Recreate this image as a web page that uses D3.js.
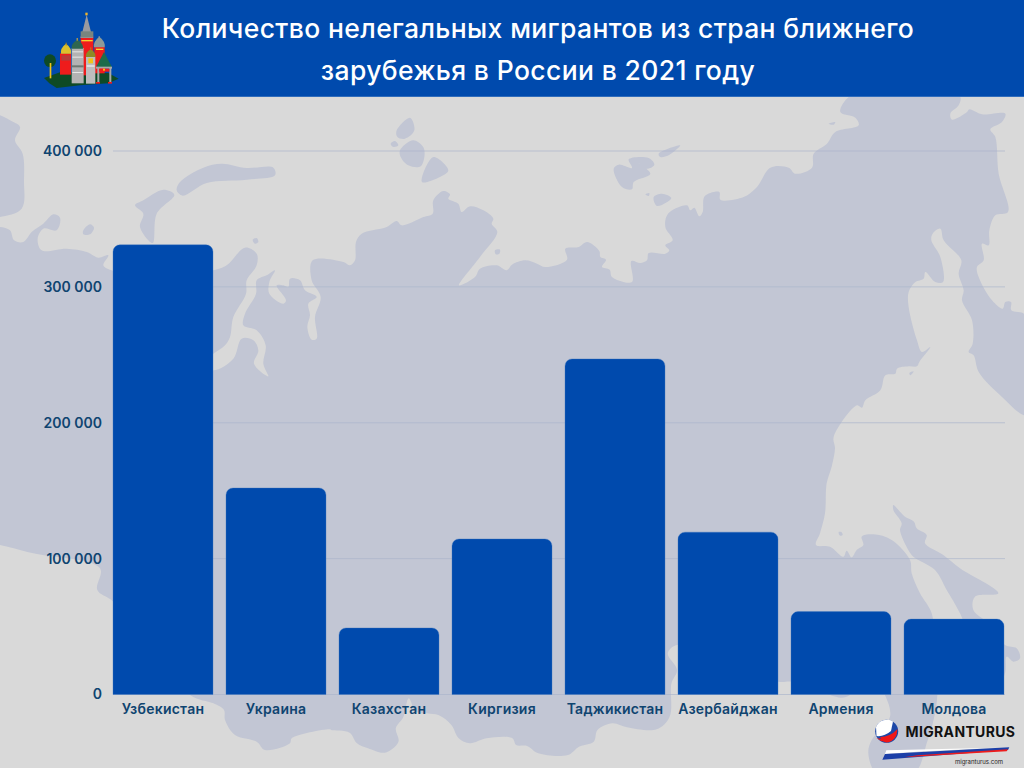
<!DOCTYPE html>
<html>
<head>
<meta charset="utf-8">
<script src="https://cdn.jsdelivr.net/npm/d3@7"></script>
<style>
  html, body { margin: 0; padding: 0; background: #d9d9d9; }
  svg { display: block; }
  text { font-family: Inter, "Noto Sans", sans-serif; }
</style>
</head>
<body>
<svg width="1024" height="768"></svg>
<script>
var titleLines = ["Количество нелегальных мигрантов из стран ближнего", "зарубежья в России в 2021 году"];
var categories = ["Узбекистан", "Украина", "Казахстан", "Киргизия", "Таджикистан", "Азербайджан", "Армения", "Молдова"];
var values = [331000, 152000, 49000, 114500, 247000, 119500, 61000, 55500];
var yTicks = [0, 100000, 200000, 300000, 400000];

var svg = d3.select("svg"),
    width = +svg.attr("width"),
    height = +svg.attr("height"),
    margin = {top: 151, right: 13.5, bottom: 73.5, left: 106.5};

var blue = "#004aad", land = "#c2c6d4", textBlue = "#0f4470";

// background map, traced by eye from crops of the picture
function pts(list, ox, oy, sx, sy) {
  return list.map(function(p) { return [ox + p[0] / sx, oy + p[1] / sy]; });
}
var north1 = pts([[0,390],[30,400],[42,430],[70,435],[95,405],[130,380],[160,352],[180,362],[170,400],[130,395],[113,425],[125,460],[200,455],[260,465],[295,482],[325,475],[310,505],[340,522],[500,540],[640,520],[680,505],[735,452],[770,470],[770,505],[740,550],[738,590],[700,660],[690,720],[675,745],[640,770],[590,800],[640,820],[700,785],[725,725],[760,730],[775,760],[762,800],[805,838],[790,800],[797,745],[770,700],[730,685],[735,650],[768,590],[770,550],[800,535],[825,520],[808,555],[808,590],[850,620],[858,610],[830,565],[850,565],[865,570],[870,545],[900,550],[915,580],[950,600],[925,620],[930,655],[922,690],[935,728],[950,725],[945,660],[962,600],[935,550],[938,490],[1030,495],[1050,505],[1065,490],[1068,435],[1085,410],[1160,390],[1190,372],[1205,385],[1270,360],[1298,350],[1300,310],[1330,282],[1350,292],[1345,305],[1375,320],[1385,345],[1410,328],[1450,340],[1480,365],[1475,380],[1492,405],[1440,480],[1377,565],[1425,540],[1440,515],[1490,505],[1520,520]], 0, 97, 3, 3);
var north2 = pts([[0,503],[40,490],[75,500],[100,510],[165,488],[160,455],[200,450],[225,435],[262,462],[265,480],[282,488],[270,510],[293,518],[300,540],[360,555],[358,492],[385,498],[405,490],[410,468],[460,470],[472,460],[460,445],[482,430],[460,390],[468,350],[525,325],[535,340],[547,332],[562,358],[572,345],[578,298],[622,285],[625,308],[695,300],[735,270],[775,212],[830,212],[850,230],[900,212],[905,170],[945,140],[970,105],[1040,85],[1030,62],[985,45],[1010,0],[1100,-30],[1300,-30],[1345,0],[1340,25],[1315,50],[1320,68],[1365,45],[1372,37],[1410,52],[1480,50],[1470,75],[1435,97],[1450,120],[1460,230],[1488,345],[1450,355],[1432,400],[1430,445],[1410,440],[1415,490],[1395,510],[1400,540],[1440,610],[1472,635],[1480,615],[1497,615],[1498,640],[1536,650],[1560,700],[1560,950],[1536,955],[1470,900],[1400,825],[1385,775],[1370,765],[1382,740],[1380,670],[1350,610],[1355,580],[1340,530],[1348,490],[1295,430],[1285,395],[1262,410],[1258,430],[1285,480],[1293,555],[1270,555],[1240,525],[1235,545],[1210,555],[1190,585],[1190,630],[1215,730],[1230,765],[1255,750],[1222,795],[1215,808],[1190,808],[1155,815],[1150,830],[1120,835],[1105,880],[1060,910],[1050,932],[1035,925],[965,1020]], 512, 97, 3, 3);
var east = pts([[525,145],[515,200],[500,250],[495,340],[480,400],[468,435],[510,440],[550,470],[560,452],[575,472],[590,450],[610,435],[605,410],[640,403],[695,420],[750,480],[755,520],[780,580],[815,640],[825,750],[832,885]], 660, 400, 3, 3);
var lobe = pts([[222,474],[202,544],[162,640],[50,640],[25,580],[35,540],[90,470],[75,405],[30,330]], 860, 560, 3, 3);
var south1 = pts([[570,885],[545,893],[510,885],[440,860],[395,845],[355,845],[200,790]], 660, 400, 3, 3);
var south2 = pts([[965,15],[940,40],[965,90],[950,130],[945,230],[910,268],[830,262],[790,250],[750,270],[740,305],[700,320],[670,345],[590,340],[560,318],[530,315],[520,295],[450,295],[405,310],[375,295],[355,255],[320,225],[260,215],[240,175],[225,232],[205,265],[212,305],[175,338],[130,325],[100,310],[80,278],[30,270]], 320, 640, 2.703, 3);
var south3 = pts([[990,568],[875,595],[870,610],[795,630],[770,605],[705,585],[675,540],[672,510],[640,490],[570,465],[340,185],[292,150],[300,85],[100,40],[0,15],[-30,10]], 0, 540, 3, 3);
var mainLand = north1.concat(north2, east, lobe, south1, south2, south3, [[-10, 400], [-10, 228]]);

var strip = pts([[700,315],[720,335],[735,350],[762,365],[770,385],[800,405],[795,430],[850,465],[900,505],[1015,580],[945,590],[940,630],[1000,680],[1035,735],[1070,745],[1080,775],[1060,785],[1040,770],[1035,820],[1000,880],[900,640],[860,570],[825,510],[760,470],[745,450],[720,390],[725,370],[700,330]], 660, 400, 3, 3);

var islands = [
  pts([[-30,50],[0,55],[30,70],[60,90],[45,130],[68,170],[72,250],[65,335],[0,360],[-30,365]], 0, 97, 3, 3),
  pts([[405,325],[430,310],[490,278],[523,293],[470,350],[458,438],[420,390],[430,350]], 0, 97, 3, 3),
  pts([[530,280],[540,255],[610,212],[665,200],[740,213],[820,212],[825,235],[740,248],[620,258],[548,296]], 0, 97, 3, 3),
  pts([[250,400],[270,382],[282,392],[270,412],[250,412]], 0, 97, 3, 3),
  pts([[758,428],[770,423],[775,435],[765,440]], 0, 97, 3, 3),
  pts([[1190,100],[1230,62],[1243,100],[1215,125],[1192,120]], 0, 97, 3, 3),
  pts([[1172,140],[1185,132],[1195,145],[1180,150]], 0, 97, 3, 3),
  pts([[1200,160],[1240,130],[1272,155],[1262,208],[1225,205],[1202,180]], 0, 97, 3, 3),
  pts([[1300,180],[1345,220],[1320,240],[1266,255]], 0, 97, 3, 3),
  pts([[1485,460],[1500,458],[1498,470],[1487,472]], 0, 97, 3, 3),
  pts([[440,170],[505,145],[470,175],[445,180]], 512, 97, 3, 3),
  pts([[305,215],[320,203],[360,213],[350,187],[410,183],[427,203],[405,215],[380,198],[415,230],[365,255],[360,277],[330,270]], 512, 97, 3, 3),
  pts([[400,292],[412,288],[410,297]], 512, 97, 3, 3),
  pts([[425,300],[450,290],[478,303],[435,327]], 512, 97, 3, 3),
  pts([[950,80],[970,75],[965,83]], 512, 97, 3, 3),
  pts([[1192,828],[1205,823],[1195,835]], 512, 97, 3, 3),
  pts([[536,396],[544,396],[548,405],[540,407]], 660, 400, 3, 3)
];

var blob = d3.line().curve(d3.curveCatmullRomClosed.alpha(0.5));
var map = svg.append("g");
map.selectAll("path")
  .data([mainLand, strip].concat(islands))
  .enter().append("path")
    .attr("d", blob)
    .attr("fill", land);

// scales and axes
var x = d3.scaleBand()
    .domain(categories)
    .range([margin.left, width - margin.right])
    .paddingInner(0.115)
    .paddingOuter(0.0575);

var y = d3.scaleLinear()
    .domain([0, 400000])
    .range([height - margin.bottom, margin.top]);

var ru = d3.formatLocale({decimal: ",", thousands: " ", grouping: [3], currency: ["", ""]});

var yAxis = d3.axisLeft(y)
    .tickValues(yTicks)
    .tickFormat(ru.format(","))
    .tickSize(0)
    .tickPadding(4.5);

var gridG = svg.append("g");
gridG.selectAll("line")
  .data(yTicks)
  .enter().append("line")
    .attr("x1", x(categories[0]))
    .attr("x2", width - 19)
    .attr("y1", function(d) { return y(d); })
    .attr("y2", function(d) { return y(d); })
    .attr("stroke", "#a9b4cb")
    .attr("stroke-opacity", 0.65)
    .attr("stroke-width", 1);

var yG = svg.append("g")
    .attr("transform", "translate(" + margin.left + ",0)")
    .call(yAxis);
yG.select(".domain").remove();
yG.selectAll("text")
    .attr("font-family", "Inter")
    .attr("font-size", 14)
    .attr("font-weight", 600)
    .attr("fill", textBlue);

// bars with rounded tops
function barPath(d, i) {
  var x0 = x(categories[i]), x1 = x0 + x.bandwidth(), y0 = y(0), y1 = y(d), r = 7;
  var p = d3.path();
  p.moveTo(x0, y0);
  p.lineTo(x0, y1 + r);
  p.arcTo(x0, y1, x0 + r, y1, r);
  p.lineTo(x1 - r, y1);
  p.arcTo(x1, y1, x1, y1 + r, r);
  p.lineTo(x1, y0);
  p.closePath();
  return p.toString();
}

svg.append("g").selectAll("path")
  .data(values)
  .enter().append("path")
    .attr("class", "bar")
    .attr("d", barPath)
    .attr("fill", blue)
    .attr("stroke", "#3f78bf")
    .attr("stroke-opacity", 0.5)
    .attr("stroke-width", 0.7);

var xAxis = d3.axisBottom(x).tickSize(0).tickPadding(10);
var xG = svg.append("g")
    .attr("transform", "translate(0," + y(0) + ")")
    .call(xAxis);
xG.select(".domain").remove();
xG.selectAll("text")
    .attr("font-family", "Inter")
    .attr("font-size", 14)
    .attr("font-weight", 600)
    .attr("letter-spacing", 0.25)
    .attr("fill", textBlue);

// header
svg.append("rect")
    .attr("width", width)
    .attr("height", 97)
    .attr("fill", blue);
svg.append("line")
    .attr("x1", 0).attr("x2", width)
    .attr("y1", 96.5).attr("y2", 96.5)
    .attr("stroke", "#2f6cbc");

svg.append("g").selectAll("text")
  .data(titleLines)
  .enter().append("text")
    .attr("x", 538)
    .attr("y", function(d, i) { return 38 + i * 42; })
    .attr("text-anchor", "middle")
    .attr("font-family", "Inter")
    .attr("font-size", 26.5)
    .attr("font-weight", 500)
    .attr("letter-spacing", 0.37)
    .attr("fill", "#fff")
    .text(function(d) { return d; });

// cathedral picture in the header
var church = svg.append("g").attr("transform", "translate(40,8) scale(0.3333)");
function rect(g, a, b, w, h, c) { g.append("rect").attr("x", a).attr("y", b).attr("width", w).attr("height", h).attr("fill", c); }
function oval(g, a, b, rx, ry, c) { g.append("ellipse").attr("cx", a).attr("cy", b).attr("rx", rx).attr("ry", ry).attr("fill", c); }
function poly(g, list, c) { g.append("polygon").attr("points", list.join(" ")).attr("fill", c); }
function onion(g, a, base, w, h, c) {
  g.append("path")
    .attr("d", "M" + (a - w) + "," + base + " Q" + (a - w - 3) + "," + (base - h * 0.55) + " " + a + "," + (base - h) +
      " Q" + (a + w + 3) + "," + (base - h * 0.55) + " " + (a + w) + "," + base + " Z")
    .attr("fill", c);
}

poly(church, [[12,210],[60,193],[205,195],[236,212],[205,226],[120,232],[50,240],[28,226]], "#0e4a26");
oval(church, 30, 158, 18, 19, "#0e4a26");
rect(church, 29, 165, 5, 46, "#f0c419");
rect(church, 122, 86, 38, 116, "#ef1c1c");
poly(church, [[140,20],[152,68],[160,90],[121,90],[128,68]], "#9a9a9f");
rect(church, 136, 14, 7, 8, "#f0b429");
rect(church, 122, 70, 38, 18, "#79857f");
rect(church, 124, 96, 34, 4, "#f7d12e");
rect(church, 163, 116, 31, 80, "#ef1c1c");
onion(church, 178, 118, 16, 32, "#8d9a98");
rect(church, 176, 84, 3, 8, "#8d9a98");
rect(church, 168, 122, 22, 4, "#f7d12e");
rect(church, 60, 136, 33, 64, "#ef1c1c");
onion(church, 78, 137, 15, 30, "#dcc02c");
rect(church, 77, 104, 3, 9, "#b08a18");
rect(church, 64, 142, 26, 16, "#b83a3a");
rect(church, 95, 120, 36, 106, "#b3b3b3");
onion(church, 112, 122, 17, 27, "#2f6650");
rect(church, 110, 90, 3, 8, "#f0b429");
rect(church, 95, 172, 36, 6, "#6f7a72");
rect(church, 97, 130, 32, 3, "#e6e6e6");
rect(church, 97, 146, 32, 3, "#e6e6e6");
rect(church, 97, 192, 32, 3, "#e6e6e6");
rect(church, 138, 146, 28, 81, "#bdbdbd");
onion(church, 152, 147, 14, 23, "#8c8a26");
rect(church, 151, 118, 3, 6, "#b08a18");
rect(church, 145, 151, 14, 15, "#f0c419");
rect(church, 140, 172, 24, 4, "#eeeeee");
poly(church, [[192,132],[216,178],[168,178]], "#1d6b4a");
rect(church, 168, 176, 48, 6, "#a9a9a9");
rect(church, 172, 180, 6, 44, "#a9a9a9");
rect(church, 208, 180, 6, 44, "#a9a9a9");
rect(church, 178, 182, 30, 9, "#ef1c1c");
rect(church, 168, 222, 12, 5, "#ef1c1c");
rect(church, 204, 222, 12, 5, "#ef1c1c");
rect(church, 189, 182, 6, 6, "#f0c419");

// logo bottom right
var logo = svg.append("g");
oval(logo, 886.7, 731.3, 11.5, 11.5, "#1c47a8");
logo.append("path").attr("d", "M876,727 A11.5,11.5 0 0 1 893,721.5 L891,731 Q884,737 876.5,736 Z").attr("fill", "#fff");
logo.append("path").attr("d", "M876.5,738 Q885,741 897,733 A11.5,11.5 0 0 1 878,739 Z").attr("fill", "#f01818");
logo.append("path").attr("d", "M880,737 Q890,737 897.5,729 Q896,742 886,742.5 Q882,741 880,737 Z").attr("fill", "#f01818");
logo.append("text")
    .attr("x", 905.5)
    .attr("y", 736.5)
    .attr("font-family", "Open Sans")
    .attr("font-size", 14)
    .attr("font-weight", 700)
    .attr("letter-spacing", 0.35)
    .attr("fill", "#111")
    .text("MIGRANTURUS");
var fx = function(p) { return [824 + p[0] / 3, 668 + p[1] / 3]; };
poly(logo, [[187,247],[520,239],[300,250],[183,258]].map(fx), "#fff");
poly(logo, [[183,258],[556,238],[552,246],[175,275]].map(fx), "#1c3fa8");
poly(logo, [[280,262],[552,244],[548,250],[240,268]].map(fx), "#ee1c1c");
logo.append("text")
    .attr("x", 979)
    .attr("y", 764)
    .attr("text-anchor", "middle")
    .attr("font-family", "Open Sans")
    .attr("font-size", 6)
    .attr("fill", "#222")
    .text("migranturus.com");
</script>
</body>
</html>
